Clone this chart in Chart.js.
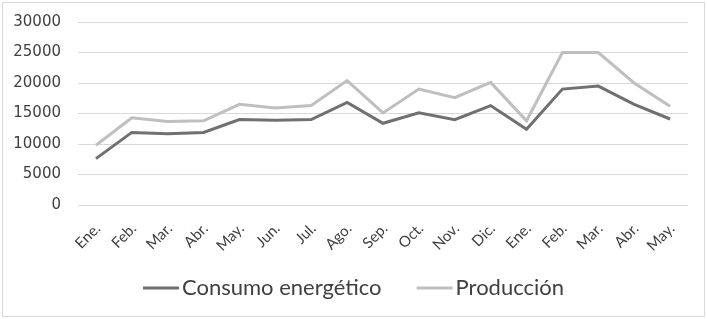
<!DOCTYPE html>
<html>
<head>
<meta charset="utf-8">
<script src="https://cdn.jsdelivr.net/npm/chart.js@4"></script>
<style>
  html, body { margin: 0; padding: 0; background: #fff; }
  #wrap { width: 707px; height: 319px; }
</style>
</head>
<body>
<div id="wrap"><canvas id="consumo" width="707" height="319"></canvas></div>
<script>
const months = ["Ene.", "Feb.", "Mar.", "Abr.", "May.", "Jun.", "Jul.", "Ago.", "Sep.", "Oct.", "Nov.", "Dic.", "Ene.", "Feb.", "Mar.", "Abr.", "May."];
const consumo = [7600, 11900, 11700, 11900, 14000, 13900, 14000, 16800, 13400, 15100, 14000, 16300, 12400, 19000, 19500, 16500, 14100];
const produccion = [9800, 14300, 13700, 13800, 16500, 15900, 16300, 20400, 15100, 19000, 17600, 20100, 13800, 25000, 25000, 20000, 16200];

// frame around the whole chart, like the spreadsheet chart border
const frame = {
  id: "frame",
  beforeDraw(chart) {
    const c = chart.ctx;
    c.save();
    c.fillStyle = "#fff";
    c.fillRect(0, 0, chart.width, chart.height);
    c.strokeStyle = "#d9d9d9";
    c.lineWidth = 1;
    c.strokeRect(2.5, 2.5, chart.width - 5, chart.height - 5);
    c.restore();
  }
};

// month labels slanted upwards, ending at the tick (excel style)
const slantLabels = {
  id: "slantLabels",
  afterDraw(chart) {
    const c = chart.ctx;
    const xs = chart.scales.x;
    const y0 = chart.chartArea.bottom + 21;
    c.save();
    c.font = "15px Lato";
    c.fillStyle = "#404040";
    c.textAlign = "right";
    c.textBaseline = "middle";
    months.forEach((m, i) => {
      const x = xs.getPixelForValue(i) + 2;
      c.save();
      c.translate(x, y0);
      c.rotate(-Math.PI / 4);
      c.fillText(m, 0, 0);
      c.restore();
    });
    c.restore();
  }
};

// legend with a short gap between the line sample and its text
const lineLegend = {
  id: "lineLegend",
  afterDraw(chart) {
    const c = chart.ctx;
    const sample = 36, gap = 3, itemGap = 35, y = 288;
    c.save();
    c.font = "22px Lato";
    c.textBaseline = "middle";
    const items = chart.data.datasets.map(d => ({ text: d.label, color: d.borderColor, w: c.measureText(d.label).width }));
    const total = items.reduce((a, it) => a + sample + gap + it.w, 0) + itemGap * (items.length - 1);
    let x = chart.width / 2 - total / 2;
    items.forEach(it => {
      c.fillStyle = it.color;
      c.fillRect(x, y - 1.5, sample, 3);
      x += sample + gap;
      c.fillStyle = "#404040";
      c.fillText(it.text, x, y);
      x += it.w + itemGap;
    });
    c.restore();
  }
};

new Chart(document.getElementById("consumo"), {
  type: "line",
  data: {
    labels: months,
    datasets: [
      {
        label: "Consumo energético",
        data: consumo,
        borderColor: "#707070",
        borderWidth: 3,
        pointRadius: 0,
        tension: 0
      },
      {
        label: "Producción",
        data: produccion,
        borderColor: "#bfbfbf",
        borderWidth: 3,
        pointRadius: 0,
        tension: 0
      }
    ]
  },
  options: {
    responsive: false,
    animation: false,
    devicePixelRatio: 1,
    layout: { padding: { top: 22, left: 8, right: 19, bottom: 114 } },
    plugins: {
      tooltip: { enabled: false },
      legend: { display: false }
    },
    scales: {
      x: {
        offset: true,
        grid: { display: false },
        border: { display: false },
        ticks: { display: false },
        afterFit(s) { s.height = 0; }
      },
      y: {
        min: 0,
        max: 30000,
        grid: { color: "#d9d9d9", drawTicks: false },
        border: { display: false },
        ticks: {
          stepSize: 5000,
          padding: 17,
          color: "#404040",
          font: { family: "DejaVu Sans", size: 15 },
          callback: (v) => String(v)
        },
        afterFit(s) {
          s.width = 70;
          s.paddingTop = 0;
          s.paddingBottom = 0;
        }
      }
    }
  },
  plugins: [frame, slantLabels, lineLegend]
});
</script>
</body>
</html>
